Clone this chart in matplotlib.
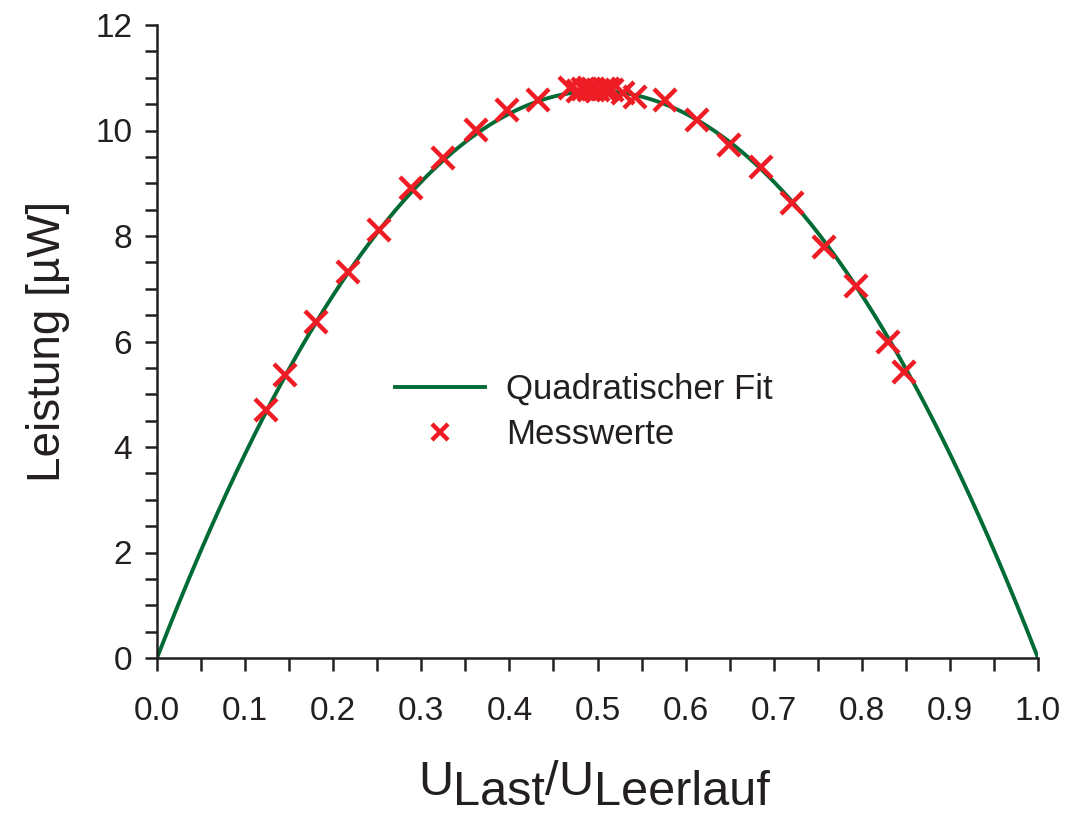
import numpy as np
import matplotlib.pyplot as plt
from matplotlib.ticker import MultipleLocator

plt.rcParams['font.family'] = ['Liberation Sans', 'DejaVu Sans']

# Messwerte (U_Last/U_Leerlauf, Leistung in µW)
u_ratio = [0.124, 0.145, 0.180, 0.217, 0.252, 0.288, 0.325, 0.362, 0.397, 0.433,
           0.469, 0.478, 0.484, 0.490, 0.495, 0.501, 0.507, 0.512, 0.517, 0.529,
           0.543, 0.577, 0.613, 0.649, 0.686, 0.721, 0.757, 0.793, 0.830, 0.848]
power = [4.70, 5.36, 6.37, 7.32, 8.11, 8.91, 9.48, 10.01, 10.39, 10.58,
         10.80, 10.74, 10.78, 10.76, 10.78, 10.77, 10.79, 10.78, 10.76, 10.72,
         10.64, 10.58, 10.20, 9.72, 9.30, 8.62, 7.79, 7.05, 5.99, 5.42]

# quadratischer Fit P = a*x*(1-x)
fit_a = 43.0
x_fit = np.linspace(0, 1, 400)
y_fit = fit_a * x_fit * (1 - x_fit)

xtick_labels = ['0.0', '0.1', '0.2', '0.3', '0.4', '0.5', '0.6', '0.7', '0.8', '0.9', '1.0']

W, H = 1068, 814
fig = plt.figure(figsize=(W / 100, H / 100), dpi=100)
ax = fig.add_axes([157 / W, (H - 658) / H, 881 / W, 633 / H])

ax.plot(x_fit, y_fit, color='#006b34', lw=2.8, label='Quadratischer Fit', zorder=2)
ax.plot(u_ratio, power, ls='none', marker='x', color='#ee1c25', ms=16, mew=3.2,
        label='Messwerte', zorder=3)

ax.set_xlim(0, 1)
ax.set_ylim(0, 12)
ax.set_xticks(np.linspace(0, 1, len(xtick_labels)))
ax.set_xticklabels(xtick_labels)
ax.xaxis.set_minor_locator(MultipleLocator(0.05))
ax.yaxis.set_major_locator(MultipleLocator(2))
ax.yaxis.set_minor_locator(MultipleLocator(0.5))
ax.tick_params(which='both', direction='out', length=9, width=1.8, labelsize=24,
               colors='#231f20')
ax.tick_params(axis='x', pad=18)
ax.tick_params(axis='y', pad=9)
for s in ['top', 'right']:
    ax.spines[s].set_visible(False)
for s in ['left', 'bottom']:
    ax.spines[s].set_linewidth(1.8)
    ax.spines[s].set_color('#231f20')

ax.set_ylabel('Leistung [µW]', fontsize=33, color='#231f20', labelpad=18)

leg = ax.legend(loc='upper left', bbox_to_anchor=(0.25, 0.478), frameon=False,
                fontsize=25, handlelength=2.6, handletextpad=0.6, labelspacing=0.35,
                borderpad=0, markerscale=0.75)
for t in leg.get_texts():
    t.set_color('#231f20')

# x label: U_Last/U_Leerlauf, pieces placed one after another
fig.canvas.draw()
renderer = fig.canvas.get_renderer()
pieces = [('U', 0), ('Last', -10), ('/', 0), ('U', 0), ('Leerlauf', -10)]
x_px = 418
base_px = H - 795
for txt, dy in pieces:
    t = fig.text(x_px / W, (base_px + dy) / H, txt, fontsize=35, color='#231f20',
                 ha='left', va='baseline')
    x_px += t.get_window_extent(renderer).width

fig.savefig('out.png', dpi=100)
